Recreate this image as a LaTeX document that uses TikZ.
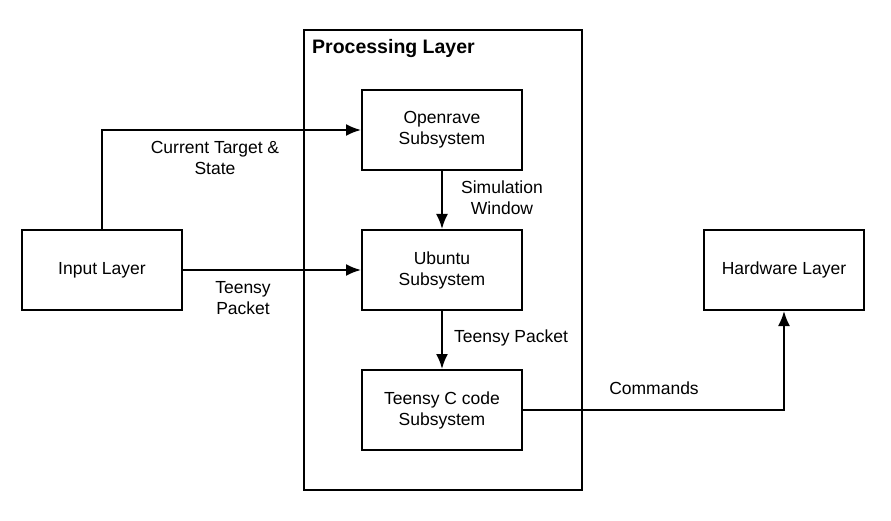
\documentclass[tikz,border=0pt]{standalone}
\usepackage{fontspec}
\setmainfont{Liberation Sans}
\usetikzlibrary{arrows.meta}
\begin{document}
\begin{tikzpicture}[x=1pt,y=-1pt]
		% définition des styles
		\tikzstyle{bloc}=[rectangle,draw,line width=2pt,minimum width=160pt,minimum height=80pt,align=center,text=black,font=\fontsize{17.5}{21}\selectfont]
		\tikzstyle{cadre}=[rectangle,draw,line width=2pt,minimum width=278pt,minimum height=460pt]
		\tikzstyle{fleche}=[-{Latex[length=15pt,width=12pt]},line width=2pt]
		\tikzstyle{etiquette}=[align=center,inner sep=0pt,font=\fontsize{17.5}{21}\selectfont]
		\useasboundingbox (0,0) rectangle (891,521);
		% le cadre
		\node[cadre] (proc) at (443,260) {};
		\node[anchor=base west,inner sep=0pt,font=\fontsize{19.5}{21}\selectfont\bfseries] (titre) at (312,54) {Processing Layer};
		% les nœuds
		\node[bloc] (in) at (102,270) {Input Layer};
		\node[bloc] (open) at (442,130) {Openrave\\Subsystem};
		\node[bloc] (ubu) at (442,270) {Ubuntu\\Subsystem};
		\node[bloc] (teen) at (442,410) {Teensy C code\\Subsystem};
		\node[bloc] (hard) at (784,270) {Hardware Layer};
		% les flèches
		\draw[fleche] (in.north) |- (open.west);
		\draw[fleche] (in) -- (ubu);
		\draw[fleche] (open) -- (ubu);
		\draw[fleche] (ubu) -- (teen);
		\draw[fleche] (teen.east) -| (hard.south);
		% les étiquettes
		\node[etiquette] (cible) at (215,158) {Current Target \&\\State};
		\node[etiquette] (paquet) at (243,298) {Teensy\\Packet};
		\node[etiquette] (simu) at (502,198) {Simulation\\Window};
		\node[etiquette] (paquet2) at (511,338) {Teensy Packet};
		\node[etiquette] (cmd) at (654,388) {Commands};
	\end{tikzpicture}
\end{document}
